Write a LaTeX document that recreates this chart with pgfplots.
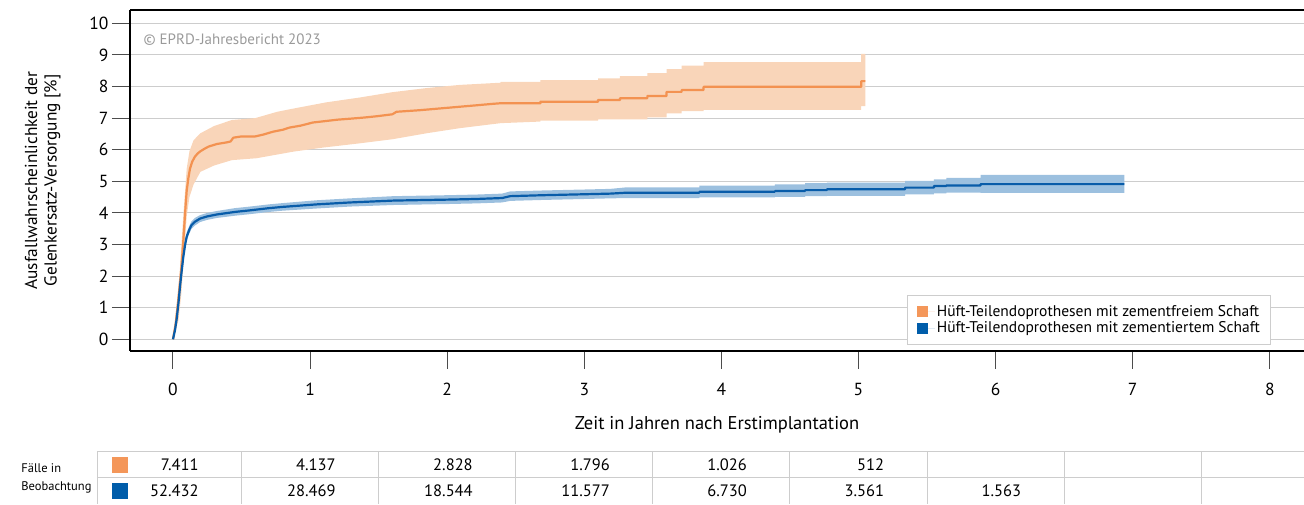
\documentclass[border=0pt]{standalone}
\usepackage{fontspec}
\setmainfont{PT Sans}
\usepackage{pgfplots}
\pgfplotsset{compat=1.18}

\definecolor{orgline}{HTML}{F39251}
\definecolor{orgband}{HTML}{F9D5B9}
\definecolor{bluline}{HTML}{085CA9}
\definecolor{bluband}{HTML}{9CC0DF}
\definecolor{orgsw}{HTML}{F4975A}
\definecolor{blusw}{HTML}{005DAA}
\definecolor{gridc}{HTML}{CDCDCD}
\definecolor{copyc}{HTML}{9A9A9A}
\tikzset{tnum/.style={anchor=east, font=\fontsize{16.5}{19}\selectfont}}

\begin{document}
\begin{tikzpicture}
\useasboundingbox (-173pt,-165.7pt) rectangle (1131pt,339.3pt);
\begin{axis}[
  at={(0pt,0pt)}, anchor=origin,
  x=137.1pt, y=31.6pt,
  xmin=-0.314, xmax=8.25, ymin=-0.37, ymax=10.42,
  axis x line*=box, axis y line*=left,
  axis line style={line width=1.8pt, black},
  xtick={0,1,2,3,4,5,6,7,8},
  ytick={0,1,2,3,4,5,6,7,8,9,10},
  xtick pos=bottom, ytick pos=left,
  tick align=outside,
  major tick length=18pt,
  tick style={draw=black!70, line width=1pt},
  ymajorgrids=true,
  grid style={gridc, line width=1pt},
  /pgf/number format/assume math mode=true,
  ticklabel style={font=\fontsize{17.5}{20}\selectfont},
  xticklabel style={yshift=-11pt},
  label style={font=\fontsize{18.5}{22}\selectfont},
  xlabel={Zeit in Jahren nach Erstimplantation},
  xlabel style={at={(axis description cs:0.5,-0.217)}, anchor=center},
  ylabel={Ausfallwahrscheinlichkeit der\\Gelenkersatz-Versorgung [\%]},
  ylabel style={align=center, font=\fontsize{17.3}{19.5}\selectfont, at={(axis description cs:-0.056,0.5)}, anchor=south},
  legend cell align=left,
  legend image code/.code={\fill (0pt,-5.5pt) rectangle (11pt,5.5pt); \path (0pt,0pt) -- (18pt,0pt);},
  legend style={at={(axis description cs:0.972,0.018)}, anchor=south east,
    draw=gridc, line width=0.8pt, font=\fontsize{15.5}{18}\selectfont,
    inner xsep=9pt, inner ysep=8pt, row sep=0pt},
]
% orange confidence band
\addplot[fill=orgband, draw=none, forget plot] table {
x y
0 0
0.03 1.2
0.05 2.2
0.075 3.9
0.1 5.4
0.12 5.95
0.15 6.3
0.2 6.52
0.3 6.75
0.43 6.94
0.6 7.0
0.76 7.2
0.9 7.32
1.12 7.5
1.36 7.65
1.6 7.82
1.85 7.95
2.09 8.05
2.39 8.12
2.39 8.15
2.68 8.15
2.68 8.2
3.1 8.2
3.1 8.26
3.26 8.26
3.26 8.33
3.46 8.33
3.46 8.42
3.6 8.42
3.6 8.55
3.71 8.55
3.71 8.66
3.87 8.66
3.87 8.77
5.02 8.77
5.02 9.03
5.05 9.03
5.05 7.38
5.02 7.38
5.02 7.26
3.87 7.26
3.87 7.22
3.71 7.22
3.71 7.15
3.6 7.15
3.6 7.02
3.46 7.02
3.46 6.96
3.1 6.96
3.1 6.92
2.68 6.92
2.68 6.89
2.39 6.84
2.09 6.68
1.85 6.52
1.6 6.33
1.36 6.2
1.1 6.07
0.88 5.94
0.61 5.73
0.43 5.67
0.3 5.5
0.2 5.3
0.15 4.9
0.12 4.5
0.1 3.9
0.075 2.3
0.06 1.4
0.04 0.6
0 0
};
% blue confidence band
\addplot[fill=bluband, draw=none, forget plot] table {
x y
0 0
0.015 0.35
0.027 0.75
0.04 1.3
0.051 1.8
0.063 2.3
0.075 2.75
0.088 3.12
0.1 3.38
0.12 3.6
0.136 3.74
0.16 3.84
0.197 3.93
0.25 4.0
0.32 4.06
0.45 4.15
0.56 4.2
0.7 4.27
0.8 4.31
1.05 4.4
1.29 4.46
1.61 4.53
2.0 4.56
2.21 4.58
2.4 4.61
2.46 4.68
2.7 4.71
3.0 4.74
3.19 4.76
3.31 4.81
3.84 4.81
3.84 4.86
4.39 4.86
4.39 4.9
4.61 4.9
4.61 4.94
4.77 4.94
4.77 4.96
5.34 4.96
5.34 5.01
5.55 5.01
5.55 5.06
5.64 5.06
5.64 5.11
5.89 5.11
5.89 5.2
6.94 5.2
6.94 4.63
5.89 4.63
5.89 4.64
5.64 4.64
5.64 4.62
5.55 4.62
5.55 4.59
5.34 4.59
5.34 4.54
4.77 4.54
4.77 4.53
4.61 4.53
4.61 4.51
4.39 4.51
4.39 4.49
3.84 4.49
3.84 4.47
3.31 4.47
3.19 4.46
3.0 4.44
2.7 4.41
2.46 4.38
2.4 4.33
2.21 4.3
2.0 4.28
1.61 4.25
1.29 4.2
1.05 4.14
0.8 4.07
0.7 4.03
0.56 3.96
0.45 3.91
0.32 3.84
0.25 3.78
0.197 3.71
0.16 3.6
0.136 3.5
0.12 3.36
0.1 3.12
0.088 2.84
0.075 2.45
0.063 2.0
0.051 1.5
0.04 1.0
0.027 0.55
0.015 0.25
0 0
};
% orange line (zementfrei)
\addplot[orgline, line width=2.2pt, forget plot, line join=round] table {
x y
0 0
0.02 0.5
0.04 1.3
0.06 2.2
0.075 3.1
0.09 4.1
0.1 4.7
0.112 5.1
0.124 5.4
0.14 5.62
0.16 5.78
0.18 5.88
0.2 5.95
0.23 6.03
0.26 6.1
0.32 6.18
0.39 6.23
0.42 6.26
0.44 6.38
0.5 6.42
0.6 6.42
0.66 6.48
0.73 6.57
0.8 6.63
0.85 6.70
0.93 6.76
1.02 6.86
1.1 6.9
1.2 6.95
1.29 6.98
1.4 7.02
1.49 7.06
1.6 7.12
1.63 7.2
1.8 7.25
2.04 7.34
2.2 7.4
2.33 7.45
2.39 7.47
2.68 7.47
2.68 7.52
3.1 7.52
3.1 7.57
3.26 7.57
3.26 7.63
3.46 7.63
3.46 7.70
3.6 7.70
3.6 7.83
3.71 7.83
3.71 7.89
3.87 7.89
3.87 7.99
5.02 7.99
5.02 8.17
5.05 8.17
};
% blue line (zementiert)
\addplot[bluline, line width=2.2pt, forget plot, line join=round] table {
x y
0 0
0.015 0.3
0.027 0.65
0.04 1.15
0.051 1.66
0.063 2.15
0.075 2.6
0.088 2.98
0.1 3.25
0.12 3.48
0.136 3.62
0.16 3.72
0.197 3.82
0.25 3.89
0.32 3.95
0.45 4.03
0.56 4.08
0.7 4.15
0.8 4.19
1.05 4.27
1.29 4.33
1.61 4.39
2.0 4.42
2.21 4.44
2.4 4.47
2.46 4.53
2.7 4.56
3.0 4.59
3.19 4.61
3.31 4.64
3.84 4.64
3.84 4.67
4.39 4.67
4.39 4.69
4.61 4.69
4.61 4.72
4.77 4.72
4.77 4.75
5.34 4.75
5.34 4.80
5.55 4.80
5.55 4.85
5.64 4.85
5.64 4.87
5.89 4.87
5.89 4.91
6.94 4.91
};
\addlegendimage{fill=orgsw, draw=none}
\addlegendentry{Hüft-Teilendoprothesen mit zementfreiem Schaft}
\addlegendimage{fill=blusw, draw=none}
\addlegendentry{Hüft-Teilendoprothesen mit zementiertem Schaft}
\node[anchor=west, text=copyc, font=\fontsize{15}{18}\selectfont] at (axis cs:-0.24,9.47) {© EPRD-Jahresbericht 2023};
\end{axis}

% table of cases under observation
\begin{axis}[
  at={(0pt,-164.7pt)}, anchor=origin,
  x=137.1pt, y=26pt,
  xmin=-0.554, xmax=8.5, ymin=0, ymax=2,
  clip=false,
  axis line style={draw=none},
  xtick={-0.554,0.5,1.5,2.5,3.5,4.5,5.5,6.5,7.5,8.5},
  ytick={1,2},
  xticklabels={}, yticklabels={},
  major tick length=0pt,
  grid=major, grid style={gridc, line width=1pt},
]
\addplot[only marks, mark=square*, mark size=7.5pt, orgsw] coordinates {(-0.387,1.5)};
\addplot[only marks, mark=square*, mark size=7.5pt, blusw] coordinates {(-0.387,0.5)};
\node[tnum] at (axis cs:0.212,1.5) {7.411};
\node[tnum] at (axis cs:1.212,1.5) {4.137};
\node[tnum] at (axis cs:2.212,1.5) {2.828};
\node[tnum] at (axis cs:3.212,1.5) {1.796};
\node[tnum] at (axis cs:4.212,1.5) {1.026};
\node[tnum] at (axis cs:5.212,1.5) {512};
\node[tnum] at (axis cs:0.212,0.5) {52.432};
\node[tnum] at (axis cs:1.212,0.5) {28.469};
\node[tnum] at (axis cs:2.212,0.5) {18.544};
\node[tnum] at (axis cs:3.212,0.5) {11.577};
\node[tnum] at (axis cs:4.212,0.5) {6.730};
\node[tnum] at (axis cs:5.212,0.5) {3.561};
\node[tnum] at (axis cs:6.212,0.5) {1.563};
\node[anchor=east, align=left, font=\fontsize{12.5}{18}\selectfont, xshift=-2pt] at (axis cs:-0.554,1) {Fälle in\\Beobachtung};
\end{axis}
\end{tikzpicture}
\end{document}
